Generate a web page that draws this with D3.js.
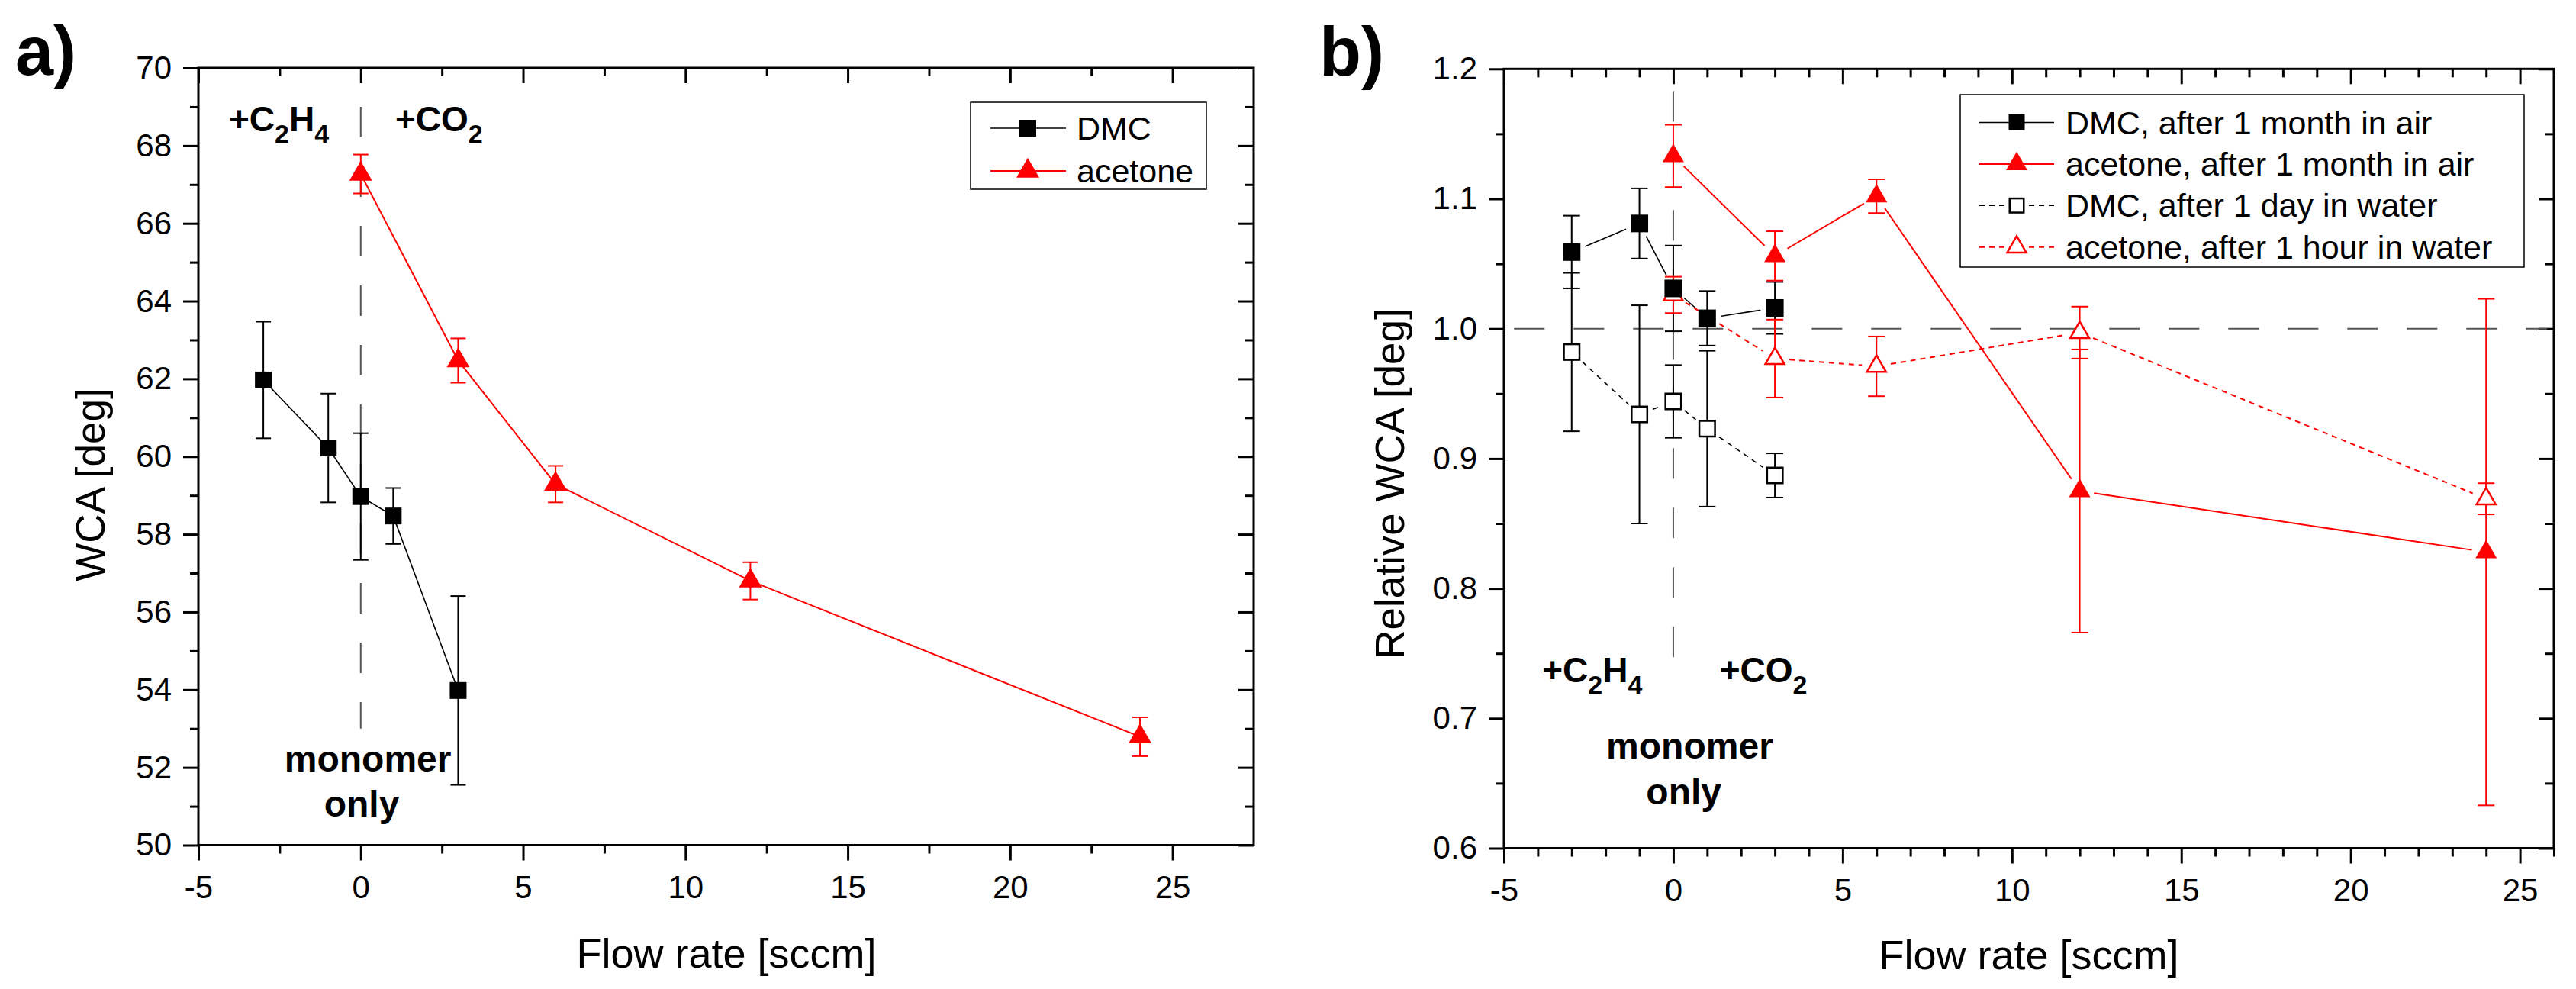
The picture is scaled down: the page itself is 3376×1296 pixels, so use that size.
<!DOCTYPE html>
<html><head><meta charset="utf-8">
<script src="https://cdn.jsdelivr.net/npm/d3@7"></script>
<style>
body{margin:0;background:#fff}
svg{display:block}
text{font-family:"Liberation Sans",Arial,sans-serif;fill:#000}
</style>
</head><body>
<svg id="c" width="3376" height="1296"></svg>
<script>
// ---------------- DATA ----------------
// Panel a
const flowA_DMC = [-3, -1, 0, 1, 3];
const wcaA_DMC  = [61.97, 60.22, 58.97, 58.47, 53.98];
const errA_DMC  = [1.50, 1.40, 1.63, 0.72, 2.43];
const flowA_Ac  = [0, 3, 6, 12, 24];
const wcaA_Ac   = [67.27, 62.47, 59.29, 56.80, 52.79];
const errA_Ac   = [0.50, 0.57, 0.47, 0.48, 0.50];
// Panel b
const flowB_DMC      = [-3, -1, 0, 1, 3];
const relB_DMCair    = [1.059, 1.081, 1.031, 1.008, 1.016];
const errB_DMCair    = [0.028, 0.027, 0.033, 0.021, 0.020];
const relB_DMCwater  = [0.982, 0.934, 0.944, 0.923, 0.887];
const errB_DMCwater  = [0.061, 0.084, 0.028, 0.060, 0.017];
const flowB_Ac       = [0, 3, 6, 12, 24];
const relB_AcAir     = [1.133, 1.056, 1.102, 0.875, 0.828];
const errB_AcAir     = [0.024, 0.019, 0.013, 0.109, 0.195];
const relB_AcWater   = [1.026, 0.977, 0.971, 0.997, 0.869];
const errB_AcWater   = [0.014, 0.030, 0.023, 0.020, 0.012];
// Tick labels
const xTicks   = [-5, 0, 5, 10, 15, 20, 25];
const yTicksA  = [50, 52, 54, 56, 58, 60, 62, 64, 66, 68, 70];
const yTicksB  = [0.6, 0.7, 0.8, 0.9, 1.0, 1.1, 1.2];
const legendA  = ["DMC", "acetone"];
const legendB  = ["DMC, after 1 month in air", "acetone, after 1 month in air",
                  "DMC, after 1 day in water", "acetone, after 1 hour in water"];

// ---------------- SETUP ----------------
const svg = d3.select('#c');
const RED = '#ff0000';
const fmtInt = d => String(d);
const fmt1 = d => d.toFixed(1);

const xA = d3.scaleLinear().domain([-5, 27.5]).range([260, 1643]);
const yA = d3.scaleLinear().domain([50, 70]).range([1107.5, 89]);
const xB = d3.scaleLinear().domain([-5, 26]).range([1971, 3347]);
const yB = d3.scaleLinear().domain([0.6, 1.2]).range([1111.5, 90.3]);

function drawAxes(x, y, yT, xMinor, yMinor, yFmt) {
  const g = svg.append('g');
  const [x0, x1] = x.range(); const [yb, yt] = y.range();
  const style = sel => { sel.select('.domain').remove();
    sel.selectAll('line').attr('stroke', '#000').attr('stroke-width', 3);
    sel.selectAll('text').attr('font-size', 42).attr('fill', '#000')
       .attr('font-family', '"Liberation Sans",Arial,sans-serif'); };
  // bottom
  g.append('g').attr('transform', `translate(0,${yb})`)
    .call(d3.axisBottom(x).tickValues(xTicks).tickSize(20).tickPadding(20).tickFormat(fmtInt)).call(style);
  g.append('g').attr('transform', `translate(0,${yb})`)
    .call(d3.axisBottom(x).tickValues(xMinor).tickSize(11).tickFormat('')).call(style);
  // top (inside)
  g.append('g').attr('transform', `translate(0,${yt})`)
    .call(d3.axisTop(x).tickValues(xTicks).tickSize(-20).tickFormat('')).call(style);
  g.append('g').attr('transform', `translate(0,${yt})`)
    .call(d3.axisTop(x).tickValues(xMinor).tickSize(-11).tickFormat('')).call(style);
  // left
  g.append('g').attr('transform', `translate(${x0},0)`)
    .call(d3.axisLeft(y).tickValues(yT).tickSize(20).tickPadding(15).tickFormat(yFmt)).call(style);
  g.append('g').attr('transform', `translate(${x0},0)`)
    .call(d3.axisLeft(y).tickValues(yMinor).tickSize(11).tickFormat('')).call(style);
  // right (inside)
  g.append('g').attr('transform', `translate(${x1},0)`)
    .call(d3.axisRight(y).tickValues(yT).tickSize(-20).tickFormat('')).call(style);
  g.append('g').attr('transform', `translate(${x1},0)`)
    .call(d3.axisRight(y).tickValues(yMinor).tickSize(-11).tickFormat('')).call(style);
  // frame
  g.append('rect').attr('x', x0).attr('y', yt).attr('width', x1 - x0).attr('height', yb - yt)
    .attr('fill', 'none').attr('stroke', '#000').attr('stroke-width', 3);
}

function refLine(x1, y1, x2, y2) {
  svg.append('line').attr('x1', x1).attr('y1', y1).attr('x2', x2).attr('y2', y2)
    .attr('stroke', '#555').attr('stroke-width', 2).attr('stroke-dasharray', '40 38');
}

function errorBars(x, y, xs, vs, es, color, cap, sw) {
  const g = svg.append('g').attr('stroke', color).attr('stroke-width', sw);
  xs.forEach((xv, i) => {
    const px = x(xv), top = y(vs[i] + es[i]), bot = y(vs[i] - es[i]);
    g.append('line').attr('x1', px).attr('x2', px).attr('y1', top).attr('y2', bot);
    g.append('line').attr('x1', px - cap / 2).attr('x2', px + cap / 2).attr('y1', top).attr('y2', top);
    g.append('line').attr('x1', px - cap / 2).attr('x2', px + cap / 2).attr('y1', bot).attr('y2', bot);
  });
}

function seriesLine(x, y, xs, vs, color, sw, dash, gap) {
  const pts = xs.map((xv, i) => [x(xv), y(vs[i])]);
  const g = svg.append('g').attr('stroke', color).attr('stroke-width', sw).attr('fill', 'none');
  if (dash) g.attr('stroke-dasharray', dash);
  if (!gap) { g.append('path').attr('d', d3.line()(pts)); return; }
  for (let i = 0; i < pts.length - 1; i++) {
    const [ax, ay] = pts[i], [bx, by] = pts[i + 1];
    const L = Math.hypot(bx - ax, by - ay); if (L <= 2 * gap) continue;
    const ux = (bx - ax) / L, uy = (by - ay) / L;
    g.append('line').attr('x1', ax + ux * gap).attr('y1', ay + uy * gap)
      .attr('x2', bx - ux * gap).attr('y2', by - uy * gap);
  }
}

function marker(g, px, py, type, color, open, size) {
  if (type === 'square') {
    const s = open ? size - 2.5 : size;
    g.append('rect').attr('x', px - s / 2).attr('y', py - s / 2).attr('width', s).attr('height', s)
      .attr('fill', open ? '#fff' : color).attr('stroke', open ? color : 'none').attr('stroke-width', 2.5);
  } else {
    const s = open ? size - 3 : size;
    g.append('path').attr('transform', `translate(${px},${py})`)
      .attr('d', d3.symbol(d3.symbolTriangle, Math.sqrt(3) / 4 * s * s)())
      .attr('fill', open ? '#fff' : color).attr('stroke', open ? color : 'none').attr('stroke-width', 2.5)
      .attr('stroke-linejoin', 'miter');
  }
}
function markers(x, y, xs, vs, type, color, open, size) {
  const g = svg.append('g');
  xs.forEach((xv, i) => marker(g, x(xv), y(vs[i]), type, color, open, size));
}

function chem(x, y, parts, size, subSize, shift) {
  const t = svg.append('text').attr('x', x).attr('y', y).attr('font-size', size).attr('font-weight', 'bold');
  let inSub = false;
  parts.forEach(([s, sub]) => {
    const ts = t.append('tspan').text(s);
    if (sub) { ts.attr('font-size', subSize); if (!inSub) { ts.attr('dy', shift); inSub = true; } }
    else if (inSub) { ts.attr('dy', -shift); inSub = false; }
  });
}
function boldText(x, y, s, size, anchor) {
  svg.append('text').attr('x', x).attr('y', y).attr('font-size', size).attr('font-weight', 'bold')
    .attr('text-anchor', anchor || 'start').text(s);
}

// ---------------- PANEL A ----------------
drawAxes(xA, yA, yTicksA, d3.range(-2.5, 27.5, 5), d3.range(51, 70, 2), fmtInt);
refLine(xA(0), yA(69), xA(0), yA(53));
errorBars(xA, yA, flowA_DMC, wcaA_DMC, errA_DMC, '#000', 20, 2);
errorBars(xA, yA, flowA_Ac, wcaA_Ac, errA_Ac, RED, 20, 2);
seriesLine(xA, yA, flowA_DMC, wcaA_DMC, '#000', 1.6, null, 0);
seriesLine(xA, yA, flowA_Ac, wcaA_Ac, RED, 2, null, 0);
markers(xA, yA, flowA_DMC, wcaA_DMC, 'square', '#000', false, 22);
markers(xA, yA, flowA_Ac, wcaA_Ac, 'triangle', RED, false, 30);

chem(xA(-4.06), yA(68.37), [['+C', 0], ['2', 1], ['H', 0], ['4', 1]], 46, 34, 15);
chem(xA(1.06), yA(68.37), [['+CO', 0], ['2', 1]], 46, 34, 15);
boldText(xA(0.22), yA(51.9), 'monomer', 48, 'middle');
boldText(xA(0.03), yA(50.73), 'only', 48, 'middle');

// legend a
{
  const g = svg.append('g');
  g.append('rect').attr('x', 1272).attr('y', 134).attr('width', 309).attr('height', 114)
    .attr('fill', '#fff').attr('stroke', '#000').attr('stroke-width', 1.5);
  const rows = [{c: '#000', t: 'square', s: 22, sw: 1.6}, {c: RED, t: 'triangle', s: 30, sw: 2}];
  rows.forEach((r, i) => {
    const cy = 168 + i * 56;
    g.append('line').attr('x1', 1298).attr('x2', 1397).attr('y1', cy).attr('y2', cy)
      .attr('stroke', r.c).attr('stroke-width', r.sw);
    marker(g, 1347, cy, r.t, r.c, false, r.s);
    g.append('text').attr('x', 1411).attr('y', cy + 15).attr('font-size', 43).text(legendA[i]);
  });
}
// labels a
svg.append('text').attr('x', 20).attr('y', 98).attr('font-size', 90).attr('font-weight', 'bold').text('a)');
svg.append('text').attr('transform', 'translate(137,635) rotate(-90)').attr('text-anchor', 'middle')
  .attr('font-size', 53).text('WCA [deg]');
svg.append('text').attr('x', 952).attr('y', 1268).attr('text-anchor', 'middle')
  .attr('font-size', 54).text('Flow rate [sccm]');

// ---------------- PANEL B ----------------
drawAxes(xB, yB, yTicksB, d3.range(-4, 27, 1).filter(v => v % 5 !== 0), d3.range(0.65, 1.2, 0.1), fmt1);
refLine(xB(0), yB(1.183), xB(0), yB(0.735));
refLine(xB(-4.7), yB(1.0), xB(25.8), yB(1.0));
errorBars(xB, yB, flowB_DMC, relB_DMCair, errB_DMCair, '#000', 22, 2);
errorBars(xB, yB, flowB_DMC, relB_DMCwater, errB_DMCwater, '#000', 22, 2);
errorBars(xB, yB, flowB_Ac, relB_AcAir, errB_AcAir, RED, 22, 2);
errorBars(xB, yB, flowB_Ac, relB_AcWater, errB_AcWater, RED, 22, 2);
seriesLine(xB, yB, flowB_DMC, relB_DMCair, '#000', 1.6, null, 19);
seriesLine(xB, yB, flowB_DMC, relB_DMCwater, '#000', 1.6, '7 6', 19);
seriesLine(xB, yB, flowB_Ac, relB_AcAir, RED, 2, null, 19);
seriesLine(xB, yB, flowB_Ac, relB_AcWater, RED, 2, '7 6', 19);
markers(xB, yB, flowB_DMC, relB_DMCwater, 'square', '#000', true, 23);
markers(xB, yB, flowB_Ac, relB_AcWater, 'triangle', RED, true, 28);
markers(xB, yB, flowB_DMC, relB_DMCair, 'square', '#000', false, 23);
markers(xB, yB, flowB_Ac, relB_AcAir, 'triangle', RED, false, 28);

chem(xB(-3.87), yB(0.728), [['+C', 0], ['2', 1], ['H', 0], ['4', 1]], 46, 34, 15);
chem(xB(1.37), yB(0.728), [['+CO', 0], ['2', 1]], 46, 34, 15);
boldText(xB(0.485), yB(0.669), 'monomer', 48, 'middle');
boldText(xB(0.31), yB(0.6335), 'only', 48, 'middle');

// legend b
{
  const g = svg.append('g');
  g.append('rect').attr('x', 2569).attr('y', 124).attr('width', 739).attr('height', 226)
    .attr('fill', '#fff').attr('stroke', '#000').attr('stroke-width', 1.5);
  const rows = [
    {c: '#000', t: 'square', open: false, dash: null, s: 21, sw: 1.6},
    {c: RED, t: 'triangle', open: false, dash: null, s: 28, sw: 2},
    {c: '#000', t: 'square', open: true, dash: '7 6', s: 21, sw: 1.6},
    {c: RED, t: 'triangle', open: true, dash: '7 6', s: 28, sw: 2}];
  rows.forEach((r, i) => {
    const cy = 160.5 + i * 54.4;
    const ln = g.append('line').attr('x1', 2594).attr('x2', 2692).attr('y1', cy).attr('y2', cy)
      .attr('stroke', r.c).attr('stroke-width', r.sw);
    if (r.dash) ln.attr('stroke-dasharray', r.dash);
    marker(g, 2643, cy, r.t, r.c, r.open, r.s);
    g.append('text').attr('x', 2707).attr('y', cy + 15).attr('font-size', 43).text(legendB[i]);
  });
}
svg.append('text').attr('x', 1729).attr('y', 99).attr('font-size', 90).attr('font-weight', 'bold').text('b)');
svg.append('text').attr('transform', 'translate(1840,634) rotate(-90)').attr('text-anchor', 'middle')
  .attr('font-size', 53).text('Relative WCA [deg]');
svg.append('text').attr('x', 2659).attr('y', 1270).attr('text-anchor', 'middle')
  .attr('font-size', 54).text('Flow rate [sccm]');
</script>
</body></html>
